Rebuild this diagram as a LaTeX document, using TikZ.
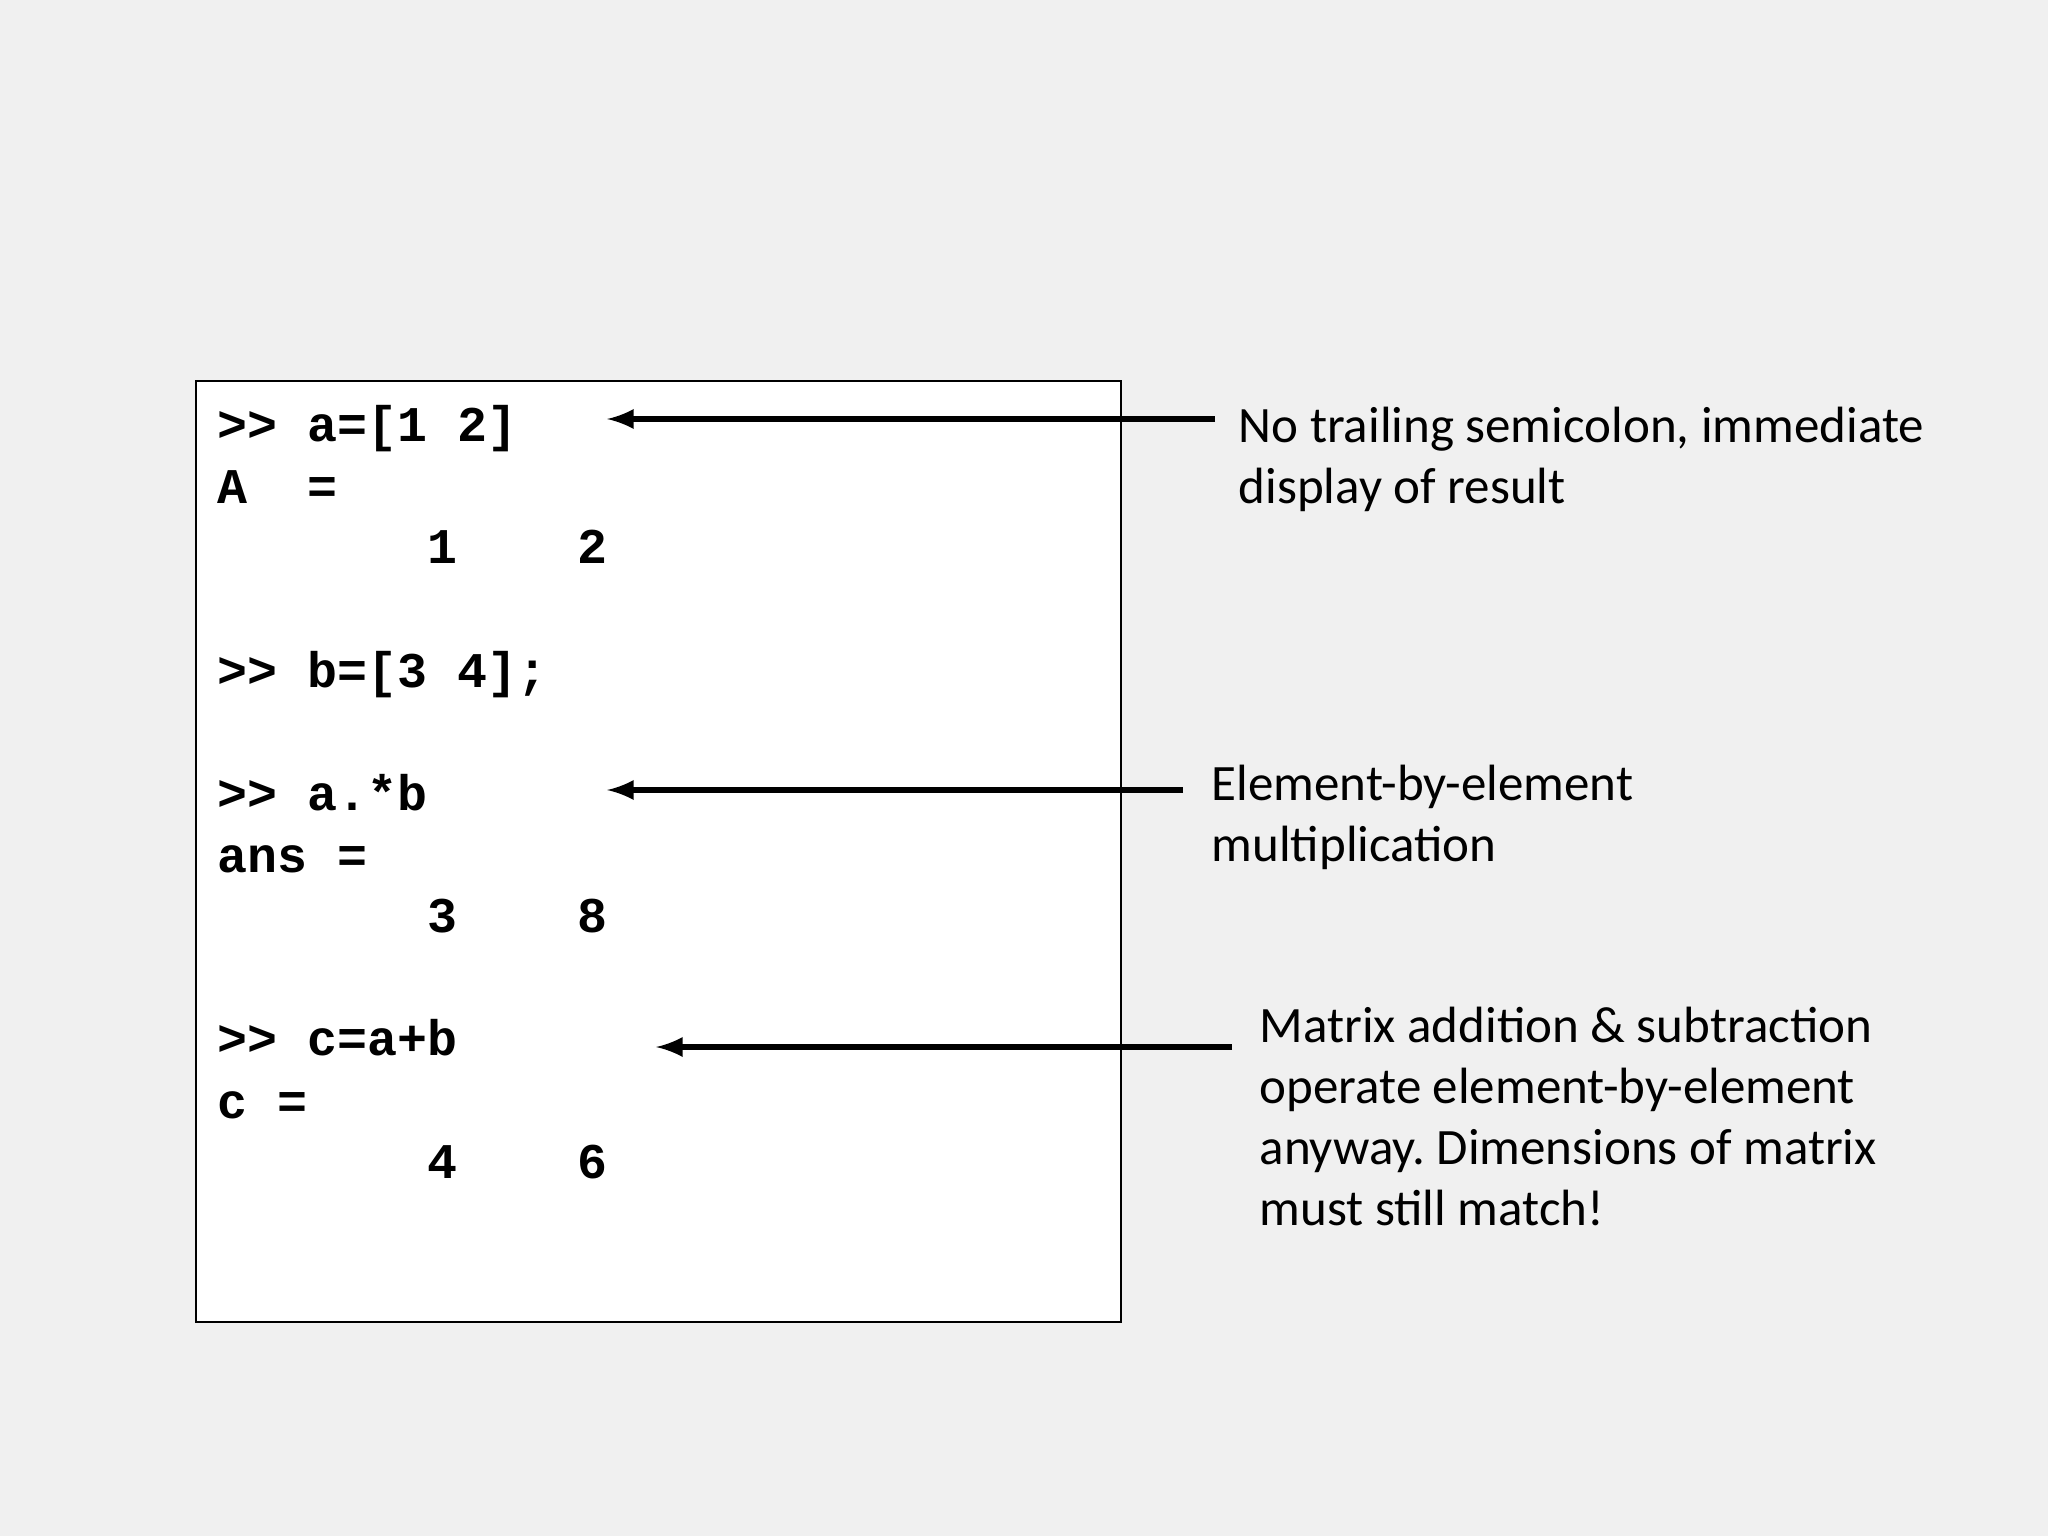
\documentclass[tikz,border=0pt]{standalone}
\usepackage{fontspec}
\setmainfont{Carlito}
\newfontfamily\codefont{Liberation Mono}[BoldFont={Liberation Mono Bold}]
\frenchspacing
\begin{document}
\begin{tikzpicture}[x=0.01cm,y=-0.01cm,
  code/.style={anchor=base west,inner sep=0,font=\codefont\bfseries\fontsize{14.2pt}{17pt}\selectfont},
  anno/.style={anchor=north west,inner sep=0,align=left,font=\fontsize{14.5pt}{17.4pt}\selectfont},
  arr/.style={-latex,line width=1.6pt}]
\fill[gray!12!white] (0,0) rectangle (2048,1536);
\useasboundingbox (0,0) rectangle (2048,1536);
\draw[fill=white,line width=0.8pt] (196,381) rectangle (1121,1322);
\node[code] (l1) at (217,441) {>>\ a=[1\ 2]};
\node[code] (l2) at (217,503) {A\ \ =};
\node[code] (l3) at (217,563) {\ \ \ \ \ \ \ 1\ \ \ \ 2};
\node[code] (l4) at (217,687) {>>\ b=[3\ 4];};
\node[code] (l5) at (217,810) {>>\ a.*b};
\node[code] (l6) at (217,872) {ans\ =};
\node[code] (l7) at (217,932) {\ \ \ \ \ \ \ 3\ \ \ \ 8};
\node[code] (l8) at (217,1055) {>>\ c=a+b};
\node[code] (l9) at (217,1118) {c\ =};
\node[code] (l10) at (217,1178) {\ \ \ \ \ \ \ 4\ \ \ \ 6};
\node[anno] (a1) at (1238,406) {No trailing semicolon, immediate\\display of result};
\node[anno] (a2) at (1211,764) {Element-by-element\\multiplication};
\node[anno] (a3) at (1259,1006) {Matrix addition \& subtraction\\operate element-by-element\\anyway. Dimensions of matrix\\must still match!};
\coordinate (s1) at (1215,419); \coordinate (e1) at (607,419);
\coordinate (s2) at (1183,790); \coordinate (e2) at (607,790);
\coordinate (s3) at (1232,1047); \coordinate (e3) at (656,1047);
\draw[arr] (s1) -- (e1);
\draw[arr] (s2) -- (e2);
\draw[arr] (s3) -- (e3);
\end{tikzpicture}
\end{document}
